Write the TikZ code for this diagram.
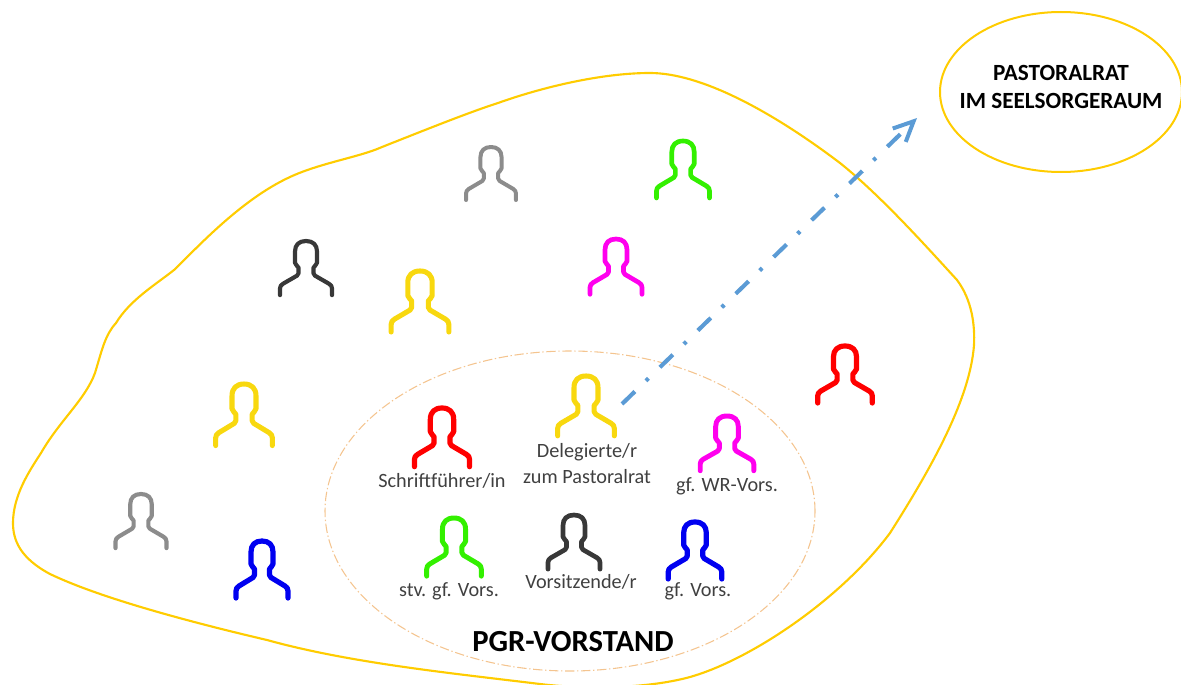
\documentclass[tikz,border=0pt]{standalone}
\usepackage{fontspec}
\setmainfont{Carlito}
\usetikzlibrary{arrows.meta,shapes.geometric}
\definecolor{blobgold}{HTML}{FFCC00}
\definecolor{vorstand}{HTML}{F4C48F}
\definecolor{arrowblue}{HTML}{5B9BD5}
\definecolor{pyellow}{HTML}{F8D80F}
\definecolor{pblack}{HTML}{383838}
\definecolor{pgrey}{HTML}{8C8C8C}
\definecolor{pred}{HTML}{FF0000}
\definecolor{pgreen}{HTML}{33F000}
\definecolor{pmagenta}{HTML}{FF00EE}
\definecolor{pblue}{HTML}{0000F0}
\definecolor{labelgrey}{HTML}{404040}
\tikzset{
  x=0.75pt,y=-0.75pt,
  blobline/.style={draw=blobgold,line width=1.6pt},
  smalllabel/.style={text=labelgrey,font=\fontsize{15.2}{18.8}\selectfont,align=center,inner sep=0pt},
  biglabel/.style={text=black,font=\fontsize{17.4}{21}\selectfont\bfseries,align=center,inner sep=0pt},
  pers/.style={line width=#1,line cap=round,line join=round},
  pics/person/.style args={#1/#2/#3/#4}{code={
    \draw[xscale=#1,yscale=#2,draw=#3,pers=#4]
      (-26,57) -- (-26,50) .. controls (-26,47.5) and (-25,46.5) .. (-23,45)
      -- (-9,36.5) .. controls (-8,36) and (-7.5,35) .. (-7.5,34) -- (-7.5,28)
      .. controls (-7.5,26) and (-11,26) .. (-11,23) -- (-11,11)
      .. controls (-11,4) and (-7,0) .. (0,0)
      .. controls (7,0) and (11,4) .. (11,11) -- (11,23)
      .. controls (11,26) and (7.5,26) .. (7.5,28) -- (7.5,34)
      .. controls (7.5,35) and (8,36) .. (9,36.5)
      -- (23,45) .. controls (25,46.5) and (26,47.5) .. (26,50) -- (26,57);
  }}
}
\begin{document}
\begin{tikzpicture}
\useasboundingbox (0,0) rectangle (1181,685);
\clip (0,0) rectangle (1181,685);
% outer group
\draw[blobline] (650,73)
 .. controls (700,73) and (770,110) .. (840,163)
 .. controls (880,195) and (925,245) .. (957,280)
 .. controls (972,300) and (975,325) .. (974,345)
 .. controls (970,400) and (930,470) .. (890,533)
 .. controls (840,600) and (750,660) .. (690,677)
 .. controls (650,688) and (590,690) .. (540,684)
 .. controls (450,673) and (350,663) .. (267,640)
 .. controls (190,622) and (100,598) .. (50,574)
 .. controls (20,558) and (13,540) .. (13,523)
 .. controls (13,495) and (30,470) .. (41,453)
 .. controls (60,420) and (85,400) .. (95,373)
 .. controls (102,350) and (105,335) .. (116,323)
 .. controls (130,300) and (155,285) .. (174,270)
 .. controls (195,250) and (240,200) .. (290,177)
 .. controls (320,163) and (360,157) .. (382,147)
 .. controls (430,128) and (470,112) .. (498,103)
 .. controls (540,88) and (600,73) .. (650,73) -- cycle;
% Vorstand
\node[draw=vorstand,line width=0.8pt,dash pattern=on 7pt off 2pt on 1pt off 2pt,ellipse,
  minimum width=367.5pt,minimum height=240pt,inner sep=0pt] (vorstandring) at (570,511) {};
\node[draw=blobgold,line width=1.5pt,ellipse,minimum width=181.5pt,minimum height=120pt,inner sep=0pt]
  (pastoralrat) at (1061,92) {};
\node[biglabel] (prtext) at (1061,87) {PASTORALRAT\\IM SEELSORGERAUM};
\node[biglabel,font=\fontsize{23}{26}\selectfont\bfseries] (pgrtext) at (573,642) {PGR-VORSTAND};
% people
\pic at (491,147) {person={0.96/0.93/pgrey/3pt}};
\pic at (683,141) {person={1.02/1.0/pgreen/3.5pt}};
\pic at (306,241) {person={1.0/0.95/pblack/3.1pt}};
\pic at (616,239) {person={1.0/0.97/pmagenta/3.5pt}};
\pic at (420,271) {person={1.11/1.07/pyellow/3.8pt}};
\pic at (845,346) {person={1.05/1.0/pred/3.9pt}};
\pic at (244,384) {person={1.09/1.08/pyellow/3.8pt}};
\pic at (586,376) {person={1.09/1.05/pyellow/3.8pt}};
\pic at (442,408) {person={1.06/1.03/pred/3.9pt}};
\pic at (727,416) {person={1.03/0.96/pmagenta/3.7pt}};
\pic at (141,494) {person={0.98/0.95/pgrey/3.1pt}};
\pic at (262,541) {person={1.0/1.0/pblue/3.9pt}};
\pic at (454,518) {person={1.05/1.02/pgreen/3.7pt}};
\pic at (574,515) {person={1.0/0.95/pblack/3.5pt}};
\pic at (695,522) {person={1.03/1.0/pblue/3.9pt}};
% labels
\node[smalllabel] (l1) at (442,481) {Schriftführer/in};
\node[smalllabel] (l2) at (587,463.5) {Delegierte/r\\zum Pastoralrat};
\node[smalllabel] (l3) at (727,486) {gf. WR-Vors.};
\node[smalllabel] (l4) at (449,591) {stv. gf. Vors.};
\node[smalllabel] (l5) at (581,582) {Vorsitzende/r};
\node[smalllabel] (l6) at (698,591) {gf. Vors.};
% arrow
\coordinate (arrowstart) at (622,404);
\coordinate (arrowend) at (917,118);
\draw[draw=arrowblue,line width=3.1pt,dash pattern=on 13.5pt off 11.5pt on 2.6pt off 12pt,
  -{Straight Barb[length=15pt,width=14pt,line width=3pt]}] (arrowstart) -- (arrowend);
\end{tikzpicture}
\end{document}
